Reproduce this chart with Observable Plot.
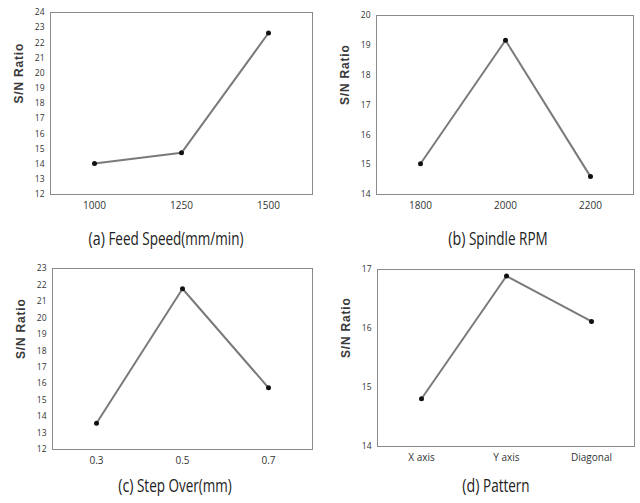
<!DOCTYPE html>
<html>
<head>
<meta charset="utf-8">
<script src="https://cdn.jsdelivr.net/npm/d3@7"></script>
<script src="https://cdn.jsdelivr.net/npm/@observablehq/plot@0.6"></script>
<style>
  html, body { margin: 0; padding: 0; background: #fff; }
  #root { position: relative; width: 640px; height: 503px; overflow: hidden; background: #fff; }
  .panel { position: absolute; }
  .caption { position: absolute; transform: translate(-50%, -50%) scaleX(0.75); white-space: nowrap;
    font-family: "Open Sans", sans-serif; font-size: 18px; color: #222; }
  .caption .tag { font-size: 19px; }
</style>
</head>
<body>
<div id="root"></div>
<script>
// ---- data ----
const feedSpeed = ["1000", "1250", "1500"];
const snFeed = [14.05, 14.75, 22.65];
const spindleRPM = ["1800", "2000", "2200"];
const snSpindle = [15.03, 19.17, 14.6];
const stepOver = ["0.3", "0.5", "0.7"];
const snStep = [13.6, 21.77, 15.75];
const pattern = ["X axis", "Y axis", "Diagonal"];
const snPattern = [14.81, 16.89, 16.12];

const yTicksA = d3.range(12, 25);
const yTicksB = d3.range(14, 21);
const yTicksC = d3.range(12, 24);
const yTicksD = d3.range(14, 18);

const panels = [
  {cats: feedSpeed, vals: snFeed, yd: [12, 24], yt: yTicksA, tag: "(a)", cap: " Feed Speed(mm/min)",
   left: 0, top: 0, w: 320, h: 215, ml: 50, mr: 8, mt: 12, mb: 21, capX: 166, capY: 238},
  {cats: spindleRPM, vals: snSpindle, yd: [14, 20], yt: yTicksB, tag: "(b)", cap: " Spindle RPM",
   left: 320, top: 0, w: 320, h: 215, ml: 56, mr: 7, mt: 15, mb: 21, capX: 498, capY: 238},
  {cats: stepOver, vals: snStep, yd: [12, 23], yt: yTicksC, tag: "(c)", cap: " Step Over(mm)",
   left: 0, top: 250, w: 320, h: 220, ml: 52, mr: 8, mt: 18, mb: 21, capX: 175, capY: 485},
  {cats: pattern, vals: snPattern, yd: [14, 17], yt: yTicksD, tag: "(d)", cap: " Pattern",
   left: 320, top: 250, w: 320, h: 220, ml: 57, mr: 6, mt: 19, mb: 24, capX: 496, capY: 485}
];

const root = document.getElementById("root");
for (const p of panels) {
  const data = p.cats.map((c, i) => ({x: c, y: p.vals[i]}));
  const chart = Plot.plot({
    width: p.w, height: p.h,
    marginLeft: p.ml, marginRight: p.mr, marginTop: p.mt, marginBottom: p.mb,
    style: {fontFamily: '"Open Sans", sans-serif', background: "transparent", color: "#333"},
    x: {type: "point", domain: p.cats, padding: 0.5, label: null},
    y: {domain: p.yd, label: null},
    marks: [
      Plot.frame({stroke: "#8a8a8a", strokeWidth: 1}),
      Plot.axisX({tickSize: 0, tickPadding: 7, fontSize: 10, label: null}),
      Plot.axisY({ticks: p.yt, tickFormat: "d", tickSize: 0, tickPadding: 6, fontSize: 8.5, label: null}),
      Plot.text(["S/N Ratio"], {frameAnchor: "left", dx: -31, rotate: -90, fontWeight: "bold",
        fontSize: 12, fontFamily: '"Liberation Sans", Arial, sans-serif', fill: "#3a3a3a"}),
      Plot.line(data, {x: "x", y: "y", stroke: "#7a7a7a", strokeWidth: 2}),
      Plot.dot(data, {x: "x", y: "y", r: 2.5, fill: "#111", stroke: "none"})
    ]
  });
  chart.querySelectorAll("text").forEach(t => {
    if (t.textContent === "S/N Ratio") t.setAttribute("letter-spacing", "0.8");
  });
  chart.classList.add("panel");
  chart.style.left = p.left + "px";
  chart.style.top = p.top + "px";
  root.appendChild(chart);
  const cap = document.createElement("div");
  cap.className = "caption";
  cap.style.left = p.capX + "px";
  cap.style.top = p.capY + "px";
  const tag = document.createElement("span");
  tag.className = "tag";
  tag.textContent = p.tag;
  cap.appendChild(tag);
  cap.appendChild(document.createTextNode(p.cap));
  root.appendChild(cap);
}
</script>
</body>
</html>
